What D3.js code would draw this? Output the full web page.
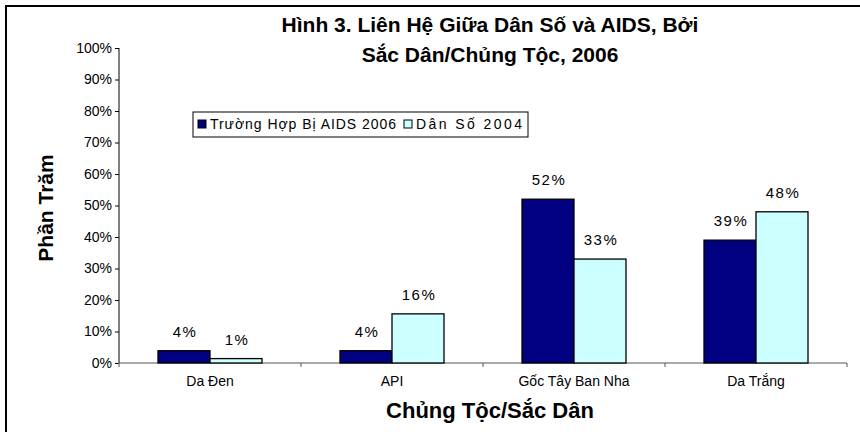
<!DOCTYPE html>
<html>
<head>
<meta charset="utf-8">
<script src="https://cdn.jsdelivr.net/npm/d3@7"></script>
<style>
  body { margin: 0; background: #fff; }
  text { font-family: Arial, "Liberation Sans", sans-serif; fill: #000; }
</style>
</head>
<body>
<div id="chart"></div>
<script>
// data
var categories = ["Da Đen", "API", "Gốc Tây Ban Nha", "Da Trắng"];
var seriesNames = ["Trường Hợp Bị AIDS 2006", "Dân Số 2004"];
var aidsCases = [3.9, 3.9, 52, 39];
var population = [1.4, 15.6, 33, 48];
var yTicks = [0, 10, 20, 30, 40, 50, 60, 70, 80, 90, 100];
var titleLines = ["Hình 3. Liên Hệ Giữa Dân Số và AIDS, Bởi", "Sắc Dân/Chủng Tộc, 2006"];

var W = 860, H = 432;
var margin = {top: 48, right: 13, bottom: 69, left: 119};
var width = W - margin.left - margin.right,
    height = H - margin.top - margin.bottom;

var colors = ["#000080", "#ccffff"];

var svg = d3.select("#chart").append("svg")
    .attr("width", W)
    .attr("height", H);

// outer frame (only top/left edges fall inside the picture)
svg.append("rect")
    .attr("x", 6).attr("y", 6)
    .attr("width", W + 10).attr("height", H + 10)
    .attr("fill", "none")
    .attr("stroke", "#000")
    .attr("stroke-width", 2);

var g = svg.append("g")
    .attr("transform", "translate(" + margin.left + "," + margin.top + ")");

var x0 = d3.scaleBand()
    .domain(categories)
    .range([0, width]);

var x1 = d3.scaleBand()
    .domain([0, 1])
    .range([39, x0.bandwidth() - 39]);

var y = d3.scaleLinear()
    .domain([0, 100])
    .range([height, 0]);

// y axis
var yAxis = g.append("g")
    .call(d3.axisLeft(y).tickValues(yTicks).tickSize(4).tickPadding(3)
        .tickFormat(function(d) { return d + "%"; }));
yAxis.select(".domain").attr("stroke", "#000").attr("d", "M0," + height + "V0");
yAxis.selectAll(".tick line").attr("stroke", "#000");
yAxis.selectAll("text").style("font-size", "14px");

// x axis with ticks at category boundaries
var xAxis = g.append("g")
    .attr("transform", "translate(0," + height + ")");
xAxis.append("line")
    .attr("x1", 0).attr("x2", width)
    .attr("stroke", "#555");
xAxis.selectAll(".bound")
    .data(d3.range(categories.length + 1))
    .enter().append("line")
    .attr("class", "bound")
    .attr("x1", function(i) { return i * x0.step(); })
    .attr("x2", function(i) { return i * x0.step(); })
    .attr("y1", 0).attr("y2", 4)
    .attr("stroke", "#555");
xAxis.selectAll(".cat")
    .data(categories)
    .enter().append("text")
    .attr("class", "cat")
    .attr("x", function(d) { return x0(d) + x0.bandwidth() / 2; })
    .attr("y", 23)
    .attr("text-anchor", "middle")
    .style("font-size", "14px")
    .text(function(d) { return d; });

// bars
var rows = categories.map(function(c, i) {
    return {cat: c, vals: [aidsCases[i], population[i]]};
});

var groups = g.selectAll(".grp")
    .data(rows)
    .enter().append("g")
    .attr("class", "grp")
    .attr("transform", function(d) { return "translate(" + x0(d.cat) + ",0)"; });

groups.selectAll("rect")
    .data(function(d) { return d.vals.map(function(v, j) { return {v: v, j: j}; }); })
    .enter().append("rect")
    .attr("x", function(d) { return x1(d.j); })
    .attr("y", function(d) { return y(d.v); })
    .attr("width", x1.bandwidth())
    .attr("height", function(d) { return height - y(d.v); })
    .attr("fill", function(d) { return colors[d.j]; })
    .attr("stroke", "#000")
    .attr("stroke-width", 1.3);

groups.selectAll(".lbl")
    .data(function(d) { return d.vals.map(function(v, j) { return {v: v, j: j}; }); })
    .enter().append("text")
    .attr("class", "lbl")
    .attr("x", function(d) { return x1(d.j) + x1.bandwidth() / 2 + 1; })
    .attr("y", function(d) { return y(d.v) - 14; })
    .attr("text-anchor", "middle")
    .style("font-size", "15px")
    .style("letter-spacing", "1.5px")
    .text(function(d) { return Math.round(d.v) + "%"; });

// title
svg.selectAll(".title")
    .data(titleLines)
    .enter().append("text")
    .attr("class", "title")
    .attr("x", 490)
    .attr("y", function(d, i) { return 32 + i * 30; })
    .attr("text-anchor", "middle")
    .style("font-size", "21px")
    .style("font-weight", "bold")
    .text(function(d) { return d; });

// axis titles
svg.append("text")
    .attr("transform", "translate(53,208) rotate(-90)")
    .attr("text-anchor", "middle")
    .style("font-size", "21px")
    .style("font-weight", "bold")
    .text("Phần Trăm");

svg.append("text")
    .attr("x", 490)
    .attr("y", 418)
    .attr("text-anchor", "middle")
    .style("font-size", "22px")
    .style("font-weight", "bold")
    .text("Chủng Tộc/Sắc Dân");

// legend
var legend = svg.append("g").attr("transform", "translate(193,112)");
legend.append("rect")
    .attr("width", 335).attr("height", 25)
    .attr("fill", "#fff")
    .attr("stroke", "#000");
var itemX = [5, 211];
var itemW = [186, 106];
seriesNames.forEach(function(name, j) {
    legend.append("rect")
        .attr("x", itemX[j]).attr("y", 8)
        .attr("width", 8).attr("height", 8)
        .attr("fill", colors[j])
        .attr("stroke", "#000");
    legend.append("text")
        .attr("x", itemX[j] + 12).attr("y", 17)
        .attr("textLength", itemW[j])
        .attr("lengthAdjust", "spacing")
        .style("font-size", "14px")
        .text(name);
});
</script>
</body>
</html>
